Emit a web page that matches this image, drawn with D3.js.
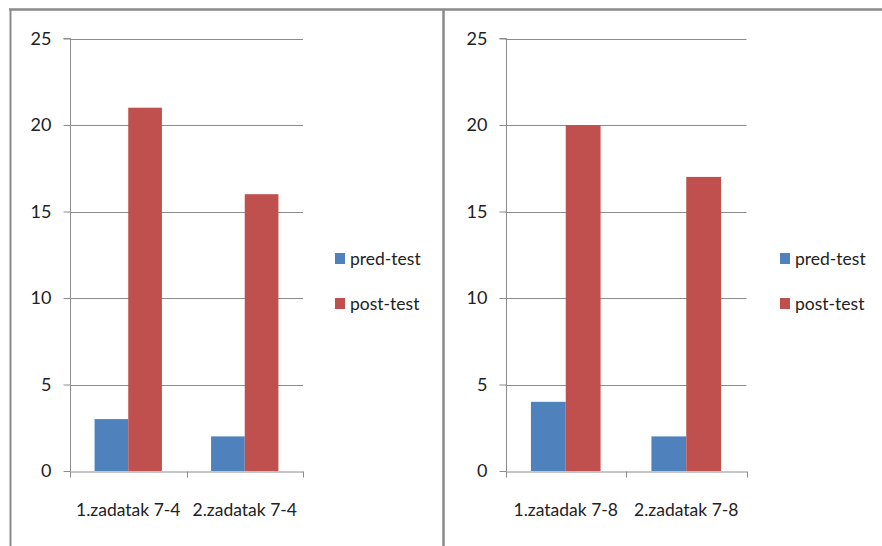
<!DOCTYPE html>
<html><head><meta charset="utf-8">
<script src="https://cdn.jsdelivr.net/npm/d3@7"></script>
<style>
html,body{margin:0;padding:0;background:#fff;}
svg{display:block;}
text{font-family:Lato, "Open Sans", sans-serif;fill:#222;}
</style></head>
<body>
<svg id="chart" width="882" height="546"></svg>
<script>
const seriesNames = ["pred-test", "post-test"];
const seriesColors = ["#4F81BD", "#C0504D"];
const yTicks = [0, 5, 10, 15, 20, 25];

const categoriesLeft = ["1.zadatak 7-4", "2.zadatak 7-4"];
const predLeft = [3, 2];
const postLeft = [21, 16];

const categoriesRight = ["1.zatadak 7-8", "2.zadatak 7-8"];
const predRight = [4, 2];
const postRight = [20, 17];

const svg = d3.select("#chart");
const gridColor = "#8c8c8c";

// outer frame
svg.append("line").attr("x1", 9).attr("x2", 882).attr("y1", 9.5).attr("y2", 9.5).attr("stroke", "#8a8a8a").attr("stroke-width", 2.5);
svg.append("line").attr("x1", 10.5).attr("x2", 10.5).attr("y1", 9).attr("y2", 546).attr("stroke", "#8a8a8a").attr("stroke-width", 2);
svg.append("line").attr("x1", 443.5).attr("x2", 443.5).attr("y1", 9).attr("y2", 546).attr("stroke", "#8a8a8a").attr("stroke-width", 2.5);

function panel(cfg) {
  const { cats, pred, post, x0, x1, legendX } = cfg;
  const top = 38.5, bottom = 471;
  const g = svg.append("g");
  const y = d3.scaleLinear().domain([0, 25]).range([bottom, top]);
  const xb = d3.scaleBand().domain(cats).range([x0, x1]).padding(0);
  const xs = d3.scaleBand().domain(seriesNames).range([0, xb.bandwidth()]).paddingInner(0).paddingOuter(0.73);

  // gridlines
  g.selectAll(".grid").data(yTicks.filter(t => t > 0)).enter().append("line")
    .attr("x1", x0).attr("x2", x1)
    .attr("y1", d => Math.round(y(d)) + 0.5).attr("y2", d => Math.round(y(d)) + 0.5)
    .attr("stroke", gridColor).attr("stroke-width", 1);

  // bars
  const rows = cats.map((c, i) => ({ cat: c, vals: [pred[i], post[i]] }));
  const grp = g.selectAll(".grp").data(rows).enter().append("g")
    .attr("transform", d => `translate(${xb(d.cat)},0)`);
  grp.selectAll("rect").data(d => d.vals.map((v, k) => ({ v, k }))).enter().append("rect")
    .attr("x", d => xs(seriesNames[d.k]))
    .attr("width", xs.bandwidth())
    .attr("y", d => y(d.v))
    .attr("height", d => y(0) - y(d.v))
    .attr("fill", d => seriesColors[d.k]);

  // y axis
  const yAxis = d3.axisLeft(y).tickValues(yTicks).tickSize(7).tickPadding(12).tickFormat(d3.format("d"));
  const ya = g.append("g").attr("transform", `translate(${Math.round(x0) + 0.5},0)`).call(yAxis);
  ya.select(".domain").attr("stroke", gridColor).attr("d", `M-7,${y(25)}H0V${y(0)}`);
  ya.selectAll(".tick line").attr("stroke", gridColor);
  ya.selectAll(".tick text").style("font-size", "18px").style("font-family", "Lato, sans-serif").attr("fill", "#222");

  // x axis
  const xAxis = d3.axisBottom(xb).tickSize(0).tickPadding(32);
  const xa = g.append("g").attr("transform", `translate(0,${Math.round(bottom) + 0.5})`).call(xAxis);
  xa.select(".domain").attr("stroke", gridColor);
  xa.selectAll(".tick text").style("font-size", "17.5px").style("font-family", "Lato, sans-serif").attr("fill", "#222");
  // category boundary ticks
  const bounds = cats.map(c => xb(c)).concat([x1]);
  xa.selectAll(".btick").data(bounds).enter().append("line")
    .attr("x1", d => Math.round(d) + 0.5).attr("x2", d => Math.round(d) + 0.5)
    .attr("y1", 0).attr("y2", 6).attr("stroke", gridColor);

  // legend
  const lg = g.append("g").attr("transform", `translate(${legendX},0)`);
  const ly = [253, 298];
  seriesNames.forEach((s, k) => {
    lg.append("rect").attr("x", 0).attr("y", ly[k]).attr("width", 10).attr("height", 11).attr("fill", seriesColors[k]);
    lg.append("text").attr("x", 15).attr("y", ly[k] + 12).text(s).style("font-size", "17.5px");
  });
}

panel({ cats: categoriesLeft, pred: predLeft, post: postLeft, x0: 70, x1: 303, legendX: 335 });
panel({ cats: categoriesRight, pred: predRight, post: postRight, x0: 505.5, x1: 746.5, legendX: 780 });
</script>
</body></html>
